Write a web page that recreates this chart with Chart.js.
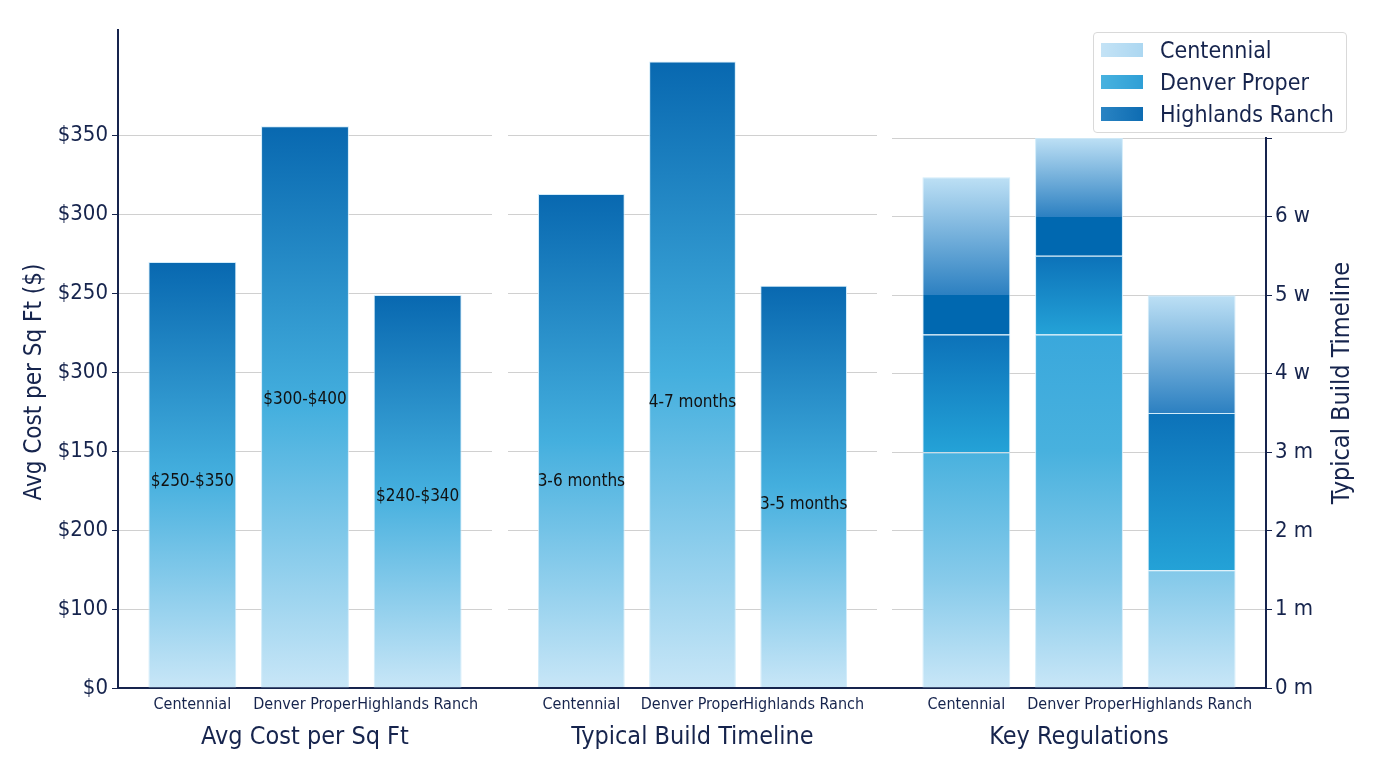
<!DOCTYPE html>
<html>
<head>
<meta charset="utf-8">
<script src="https://cdn.jsdelivr.net/npm/chart.js@4.4.1/dist/chart.umd.min.js"></script>
<style>
  html, body { margin: 0; padding: 0; background: #fff; }
  #wrap { position: relative; width: 1376px; height: 768px; overflow: hidden; }
  #wrap canvas { position: absolute; top: 0; }
  #legend {
    position: absolute; left: 1093px; top: 32px; width: 252px; height: 99px;
    border: 1px solid #d9d9d9; border-radius: 4px; background: rgba(255,255,255,0.94);
    font: 23px "DejaVu Sans Condensed", "DejaVu Sans", sans-serif; color: #16244d;
  }
  #legend .item { position: absolute; left: 7px; height: 32px; line-height: 32px; white-space: nowrap; }
  #legend .sw { display: inline-block; width: 42px; height: 14px; margin-right: 17px; vertical-align: middle; position: relative; top: -2px; }
</style>
</head>
<body>
<div id="wrap">
  <canvas id="costChart" width="500" height="768" style="left:0"></canvas>
  <canvas id="timelineChart" width="400" height="768" style="left:492px"></canvas>
  <canvas id="regChart" width="484" height="768" style="left:892px"></canvas>
  <div id="legend">
    <div class="item" style="top:1px"><span class="sw" style="background:linear-gradient(90deg,#c4e3f6,#acd7f1)"></span>Centennial</div>
    <div class="item" style="top:33px"><span class="sw" style="background:linear-gradient(90deg,#48b2df,#2f9fd6)"></span>Denver Proper</div>
    <div class="item" style="top:65px"><span class="sw" style="background:linear-gradient(90deg,#2a84c3,#0e6cb2)"></span>Highlands Ranch</div>
  </div>
</div>

<script>
// стоимость, сроки и регламенты по районам

const cities = ["Centennial", "Denver Proper", "Highlands Ranch"];

// левая ось ($ за кв. фут)
const costValues = [270, 356, 249];
const costRanges = ["$250-$350", "$300-$400", "$240-$340"];
const costTickValues = [0, 50, 100, 150, 200, 250, 300, 350];
const costTickLabels = ["$0", "$100", "$200", "$150", "$300", "$250", "$300", "$350"];

// сроки строительства, на той же левой оси
const timelineValues = [313, 397, 255];
const timelineRanges = ["3-6 months", "4-7 months", "3-5 months"];

// регламенты, стопка по правой оси
const regCentennial = [3, 4.5, 1.5];
const regDenver = [1.5, 1, 2];
const regHighlands = [2, 1.5, 1.5];
const regTickLabels = ["0 m", "1 m", "2 m", "3 m", "4 w", "5 w", "6 w", ""];

const NAVY = "#16244d";
const GRID = "#d0d0d0";
const FONT = '"DejaVu Sans Condensed", "DejaVu Sans", sans-serif';
const EDGE = "rgba(205,234,249,0.9)";
const BAR_STOPS = [[0, "#c8e6f7"], [0.5, "#44afde"], [1, "#0868b0"]];
const regBandShare = [0.25, 0.33, 0]; // тёмная полоса внизу верхнего сегмента
const costLabelAt = [0.485, 0.513, 0.487];     // доля высоты столбца для подписи
const timelineLabelAt = [0.418, 0.455, 0.455];

Chart.defaults.font.family = FONT;
Chart.defaults.color = NAVY;
Chart.defaults.animation = false;

function vGradient(ctx, bottom, top, stops) {
  if (!isFinite(bottom) || !isFinite(top) || bottom === top) return stops[stops.length - 1][1];
  const g = ctx.createLinearGradient(0, bottom, 0, top);
  stops.forEach(([o, c]) => g.addColorStop(o, c));
  return g;
}

function toPoints(values) {
  return values.map((v, i) => ({ x: i, y: v }));
}

function singleBarColor(values) {
  return (c) => {
    const y = c.chart.scales.y;
    if (c.type !== "data" || !y) return "#3aa8dc";
    return vGradient(c.chart.ctx, y.getPixelForValue(0), y.getPixelForValue(values[c.dataIndex]), BAR_STOPS);
  };
}

const regStacks = [regCentennial, regDenver, regHighlands];

function stackColor(ds) {
  return (c) => {
    const y = c.chart.scales.y;
    if (c.type !== "data" || !y) return "#3aa8dc";
    const i = c.dataIndex;
    let start = 0;
    for (let k = 0; k < ds; k++) start += regStacks[k][i];
    const end = start + regStacks[ds][i];
    const ctx = c.chart.ctx;
    if (ds === 0) {
      return vGradient(ctx, y.getPixelForValue(0), y.getPixelForValue(7),
        [[0, "#c8e6f7"], [0.2, "#86caea"], [0.43, "#48b1de"], [0.64, "#3aa8dc"], [1, "#3aa8dc"]]);
    }
    const b = y.getPixelForValue(start), t = y.getPixelForValue(end);
    if (ds === 1) return vGradient(ctx, b, t, [[0, "#24a2d7"], [1, "#0c72b9"]]);
    const band = regBandShare[i];
    const stops = band > 0
      ? [[0, "#0068b0"], [band, "#0068b0"], [band + 0.002, "#2c80c1"], [1, "#bde0f5"]]
      : [[0, "#2c80c1"], [1, "#bde0f5"]];
    return vGradient(ctx, b, t, stops);
  };
}

function cityAxis(title) {
  return {
    type: "linear",
    min: -0.66,
    max: 2.66,
    offset: false,
    afterBuildTicks: (s) => { s.ticks = cities.map((_, i) => ({ value: i })); },
    afterFit: (s) => { s.height = 80; },
    grid: { display: false, drawTicks: false },
    border: { display: true, color: NAVY, width: 2 },
    ticks: {
      padding: 7, autoSkip: false, maxRotation: 0, color: NAVY,
      font: { size: 16 },
      callback: (v) => cities[v]
    },
    title: { display: true, text: title, color: NAVY, font: { size: 25 }, padding: { top: 0, bottom: 16 } }
  };
}

const sideTitle = {
  id: "sideTitle",
  afterDraw(chart, args, opts) {
    const { ctx } = chart;
    ctx.save();
    ctx.translate(opts.x, opts.y);
    ctx.rotate(-Math.PI / 2);
    ctx.font = `${opts.size}px ${FONT}`;
    ctx.fillStyle = NAVY;
    ctx.textAlign = "center";
    ctx.textBaseline = "middle";
    ctx.fillText(opts.text, 0, 0);
    ctx.restore();
  }
};

const barText = {
  id: "barText",
  afterDatasetsDraw(chart, args, opts) {
    const { ctx } = chart;
    const meta = chart.getDatasetMeta(0);
    ctx.save();
    ctx.font = `17px ${FONT}`;
    ctx.fillStyle = "#111";
    ctx.textAlign = "center";
    ctx.textBaseline = "middle";
    meta.data.forEach((bar, i) => {
      const y = bar.base - (bar.base - bar.y) * opts.at[i];
      ctx.fillText(opts.labels[i], bar.x, y);
    });
    ctx.restore();
  }
};

// нижняя ось сплошная через промежутки между панелями
const spanSpine = {
  id: "spanSpine",
  afterDraw(chart) {
    const { ctx, chartArea, width } = chart;
    const y = Math.round(chartArea.bottom);
    ctx.save();
    ctx.strokeStyle = NAVY;
    ctx.lineWidth = 2;
    ctx.beginPath();
    ctx.moveTo(0, y);
    ctx.lineTo(width, y);
    ctx.stroke();
    ctx.restore();
  }
};

function costAxis(visible, width) {
  return {
    min: 0,
    max: 417,
    afterBuildTicks: (s) => { s.ticks = costTickValues.map((v) => ({ value: v })); },
    afterFit: (s) => { s.width = width; },
    grid: { color: GRID, tickColor: NAVY, tickLength: 6, drawTicks: visible },
    border: { display: visible, color: NAVY, width: 2 },
    ticks: {
      display: visible, padding: 4, color: NAVY, font: { size: 22 },
      callback: (v, i) => costTickLabels[i]
    }
  };
}

const barBase = { borderWidth: 1, borderColor: EDGE, barPercentage: 0.78, categoryPercentage: 1 };

new Chart(document.getElementById("costChart"), {
  type: "bar",
  data: {
    datasets: [{ label: "Avg Cost per Sq Ft", data: toPoints(costValues), backgroundColor: singleBarColor(costValues), ...barBase }]
  },
  options: {
    responsive: false,
    layout: { padding: { top: 30, right: 8, left: 0, bottom: 0 } },
    plugins: {
      legend: { display: false }, tooltip: { enabled: false },
      barText: { labels: costRanges, at: costLabelAt },
      sideTitle: { text: "Avg Cost per Sq Ft ($)", x: 35, y: 382, size: 24 }
    },
    scales: { x: cityAxis("Avg Cost per Sq Ft"), y: costAxis(true, 118) }
  },
  plugins: [barText, sideTitle]
});

new Chart(document.getElementById("timelineChart"), {
  type: "bar",
  data: {
    datasets: [{ label: "Typical Build Timeline", data: toPoints(timelineValues), backgroundColor: singleBarColor(timelineValues), ...barBase }]
  },
  options: {
    responsive: false,
    layout: { padding: { top: 30, right: 15, left: 0, bottom: 0 } },
    plugins: {
      legend: { display: false }, tooltip: { enabled: false },
      barText: { labels: timelineRanges, at: timelineLabelAt }
    },
    scales: { x: cityAxis("Typical Build Timeline"), y: costAxis(false, 16) }
  },
  plugins: [barText, spanSpine]
});

new Chart(document.getElementById("regChart"), {
  type: "bar",
  data: {
    datasets: [
      { label: "Centennial", data: toPoints(regCentennial), backgroundColor: stackColor(0), ...barBase },
      { label: "Denver Proper", data: toPoints(regDenver), backgroundColor: stackColor(1), ...barBase },
      { label: "Highlands Ranch", data: toPoints(regHighlands), backgroundColor: stackColor(2), ...barBase }
    ]
  },
  options: {
    responsive: false,
    layout: { padding: { top: 138, right: 0, left: 0, bottom: 0 } },
    plugins: {
      legend: { display: false }, tooltip: { enabled: false },
      sideTitle: { text: "Typical Build Timeline", x: 450, y: 383, size: 25 }
    },
    scales: {
      x: { ...cityAxis("Key Regulations"), stacked: true },
      y: {
        position: "right",
        stacked: true,
        min: 0,
        max: 7,
        afterFit: (s) => { s.width = 110; },
        grid: { color: GRID, tickColor: NAVY, tickLength: 6 },
        border: { color: NAVY, width: 2 },
        ticks: { stepSize: 1, padding: 3, color: NAVY, font: { size: 22 }, callback: (v, i) => regTickLabels[i] }
      }
    }
  },
  plugins: [sideTitle]
});
</script>
</body>
</html>
